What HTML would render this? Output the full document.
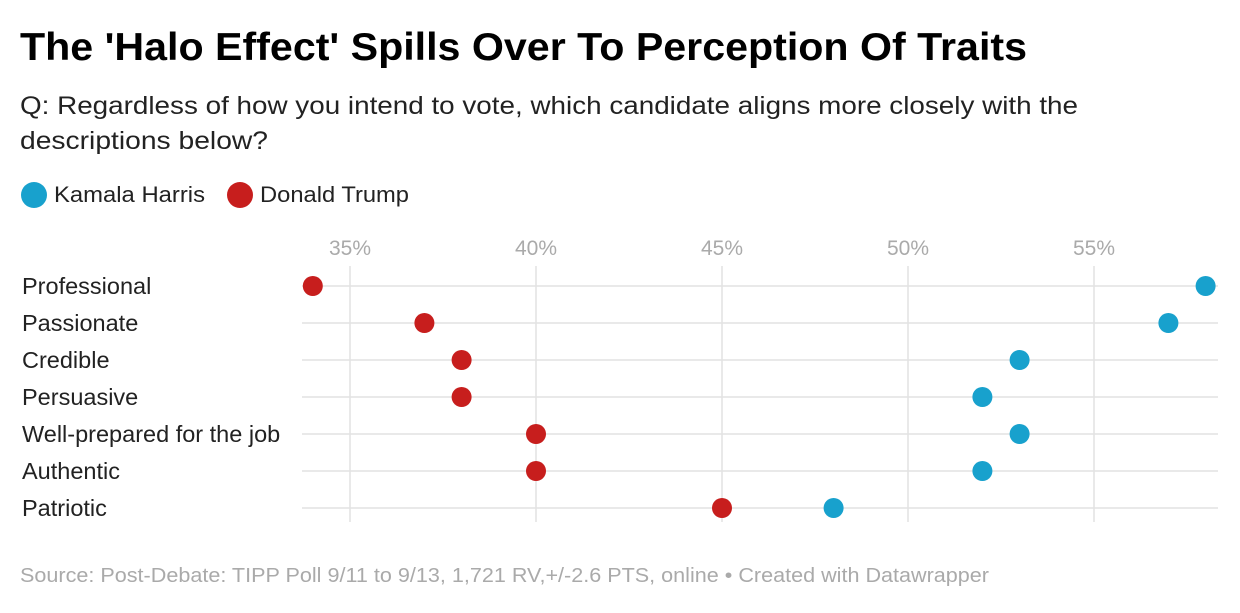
<!DOCTYPE html>
<html><head><meta charset="utf-8"><style>
body{margin:0;background:#fff;font-family:"Liberation Sans",Arial,sans-serif;}
svg text{font-family:"Liberation Sans",Arial,sans-serif;}
</style></head><body>
<svg width="1240" height="608" viewBox="0 0 1240 608">
<text x="20" y="60" font-size="39" font-weight="bold" fill="#000" textLength="1007" lengthAdjust="spacingAndGlyphs">The 'Halo Effect' Spills Over To Perception Of Traits</text>
<text x="20" y="114" font-size="25" fill="#222" textLength="1058" lengthAdjust="spacingAndGlyphs">Q: Regardless of how you intend to vote, which candidate aligns more closely with the</text>
<text x="20" y="149" font-size="25" fill="#222" textLength="248" lengthAdjust="spacingAndGlyphs">descriptions below?</text>
<g>
<circle cx="34" cy="195" r="13" fill="#18a1cd"/>
<text x="54" y="202" font-size="22" fill="#222" textLength="151" lengthAdjust="spacingAndGlyphs">Kamala Harris</text>
<circle cx="240" cy="195" r="13" fill="#c71e1d"/>
<text x="260" y="202" font-size="22" fill="#222" textLength="149" lengthAdjust="spacingAndGlyphs">Donald Trump</text>
</g>
<g id="plot"></g>
<text x="20" y="582" font-size="20" fill="#aaa" textLength="969" lengthAdjust="spacingAndGlyphs">Source: Post-Debate: TIPP Poll 9/11 to 9/13, 1,721 RV,+/-2.6 PTS, online • Created with Datawrapper</text>
</svg>
<script>
const categories=["Professional","Passionate","Credible","Persuasive","Well-prepared for the job","Authentic","Patriotic"];
const harris=[58,57,53,52,53,52,48];
const trump=[34,37,38,38,40,40,45];
const ticks=[35,40,45,50,55];
const NS="http://www.w3.org/2000/svg";
const g=document.getElementById('plot');
const x=v=>350+(v-35)*37.2;
const rowY=[286,323,359,397,433,470,508];
const y=i=>rowY[0]+i*(rowY[6]-rowY[0])/6;
function mk(t,a){const e=document.createElementNS(NS,t);for(const k in a)e.setAttribute(k,a[k]);g.appendChild(e);return e;}
ticks.forEach(t=>{
 const l=mk('line',{x1:x(t),x2:x(t),y1:266,y2:522,stroke:'#e2e2e2','stroke-width':1.5});
 
 
 const tx=mk('text',{x:x(t),y:255,'text-anchor':'middle','font-size':21,fill:'#aaa'});
 tx.textContent=t+'%';
 
 
});
categories.forEach((c,i)=>{
 const yy=y(i);
 const l=mk('line',{x1:302,x2:1218,y1:yy,y2:yy,stroke:'#e2e2e2','stroke-width':1.5});
 
 
 const tx=mk('text',{x:22,y:yy+8,'font-size':23.5,fill:'#222'});
 tx.textContent=c;
 
 
 const a=mk('circle',{cx:x(trump[i]),cy:yy,r:10,fill:'#c71e1d'});
 
 
 const b=mk('circle',{cx:x(harris[i]),cy:yy,r:10,fill:'#18a1cd'});
 
 
});
</script>
</body></html>
